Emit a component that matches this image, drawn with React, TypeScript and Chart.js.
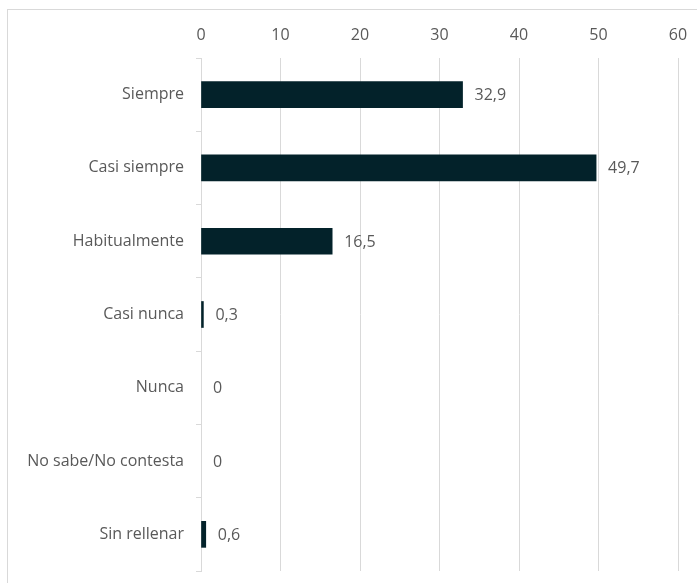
import React, { useEffect, useRef } from "react";
import { Chart, registerables } from "chart.js";

Chart.register(...registerables);

const categories = [
  "Siempre",
  "Casi siempre",
  "Habitualmente",
  "Casi nunca",
  "Nunca",
  "No sabe/No contesta",
  "Sin rellenar",
];
const values = [32.9, 49.7, 16.5, 0.3, 0, 0, 0.6];
const xMin = 0;
const xMax = 60;
const xStep = 10;

const FONT = "'Open Sans', Lato, sans-serif";
const TEXT = "#595959";
const GRID = "#d9d9d9";
const BAR = "#03222a";

const valueLabels = {
  id: "valueLabels",
  afterDatasetsDraw(chart: any) {
    const ctx = chart.ctx;
    const meta = chart.getDatasetMeta(0);
    ctx.save();
    ctx.font = `16px ${FONT}`;
    ctx.fillStyle = TEXT;
    ctx.textAlign = "left";
    ctx.textBaseline = "middle";
    meta.data.forEach((el: any, i: number) => {
      const v = values[i];
      const txt = String(v).replace(".", ",");
      ctx.fillText(txt, el.x + 12, el.y + 1);
    });
    ctx.restore();
  },
};

export default function App() {
  const ref = useRef<HTMLCanvasElement | null>(null);
  useEffect(() => {
    document.body.style.margin = "0";
    const chart = new Chart(ref.current as HTMLCanvasElement, {
      type: "bar",
      data: {
        labels: categories,
        datasets: [
          {
            data: values,
            backgroundColor: values.map((v) => (v === 0 ? "rgba(0,0,0,0)" : BAR)),
            borderWidth: 0,
            barThickness: 26,
          },
        ],
      },
      options: {
        indexAxis: "y",
        animation: false,
        responsive: false,
        maintainAspectRatio: false,
        layout: { padding: { left: 0, right: 19, top: 0, bottom: 12 } },
        plugins: {
          legend: { display: false },
          tooltip: { enabled: false },
        },
        scales: {
          x: {
            position: "top",
            min: xMin,
            max: xMax,
            ticks: {
              stepSize: xStep,
              color: TEXT,
              font: { family: FONT, size: 16 },
              padding: 13,
            },
            grid: { color: GRID, drawTicks: false, lineWidth: 1 },
            border: { display: false },
            afterFit(scale: any) {
              scale.height = 58;
              scale.paddingLeft = 0;
              scale.paddingRight = 0;
            },
          },
          y: {
            ticks: {
              color: TEXT,
              font: { family: FONT, size: 16 },
              padding: 12,
            },
            grid: {
              offset: true,
              drawOnChartArea: false,
              drawTicks: true,
              tickLength: 5,
              color: GRID,
            },
            border: { display: true, color: GRID },
            afterFit(scale: any) {
              scale.width = 201;
              scale.paddingTop = 0;
              scale.paddingBottom = 0;
            },
          },
        },
      },
      plugins: [valueLabels],
    });
    return () => chart.destroy();
  }, []);
  return (
    <div style={{ position: "fixed", left: 0, top: 0, width: 697, height: 583, background: "#fff", overflow: "hidden" }}>
      <div
        style={{
          position: "absolute",
          left: 7,
          top: 9,
          width: 720,
          height: 620,
          border: `1px solid ${GRID}`,
          boxSizing: "border-box",
        }}
      />
      <canvas ref={ref} width={697} height={583} style={{ position: "absolute", left: 0, top: 0 }} />
    </div>
  );
}
